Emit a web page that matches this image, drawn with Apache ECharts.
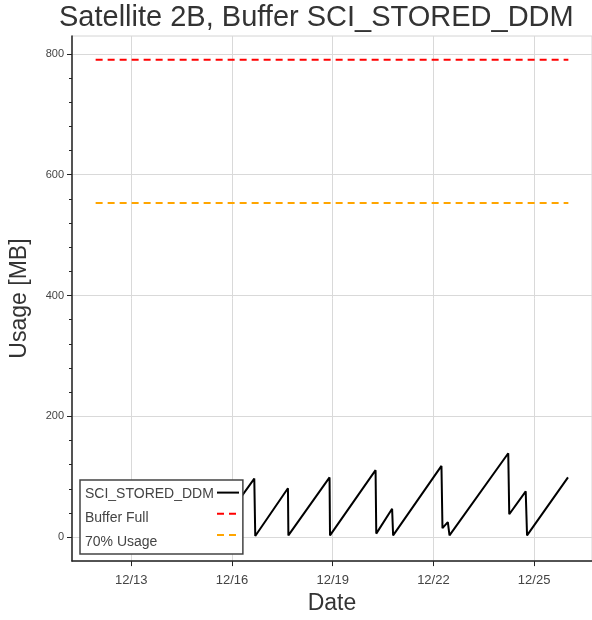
<!DOCTYPE html>
<html><head><meta charset="utf-8">
<script src="https://cdn.jsdelivr.net/npm/echarts@6/dist/echarts.min.js"></script>
<style>html,body{margin:0;padding:0;background:#fff}#c{width:592px;height:620px}</style>
</head><body><div id="c"></div>
<script>
const chartTitle = 'Satellite 2B, Buffer SCI_STORED_DDM';
const seriesNames = ['SCI_STORED_DDM', 'Buffer Full', '70% Usage'];
const usageTimes = [
  '2021-12-15T09:50', '2021-12-16T15:56', '2021-12-16T16:38', '2021-12-17T16:00',
  '2021-12-17T16:19', '2021-12-18T21:45', '2021-12-18T22:05', '2021-12-20T06:39',
  '2021-12-20T07:09', '2021-12-20T18:29', '2021-12-20T19:12', '2021-12-22T05:46',
  '2021-12-22T06:29', '2021-12-22T10:19', '2021-12-22T11:31', '2021-12-24T05:31',
  '2021-12-24T06:14', '2021-12-24T18:00', '2021-12-24T18:58', '2021-12-26T00:14'
];
const usageValues = [0, 97, 2, 81, 3, 99, 3, 111, 6, 47, 3, 118, 15, 25, 3, 139, 38, 76, 3, 99];
const limitTimes = ['2021-12-11T22:30', '2021-12-26T00:30'];
const bufferFullValues = [790, 790];
const usage70Values = [553, 553];
const xTickDates = ['2021-12-13T00:00', '2021-12-16T00:00', '2021-12-19T00:00', '2021-12-22T00:00', '2021-12-25T00:00'];
const yTickValues = [0, 200, 400, 600, 800];
const yMinorTickValues = [40, 80, 120, 160, 240, 280, 320, 360, 440, 480, 520, 560, 640, 680, 720, 760];
const xRange = ['2021-12-11T05:36', '2021-12-26T17:24'];
const yRange = [-39.5, 829.5];

const ts = s => new Date(s).getTime();
const pairs = (t, v) => t.map((x, i) => [ts(x), v[i]]);
const FONT = 'Liberation Sans, Arial, sans-serif';
const pad2 = n => (n < 10 ? '0' : '') + n;
const mmdd = v => { const d = new Date(v); return pad2(d.getMonth() + 1) + '/' + pad2(d.getDate()); };

const chart = echarts.init(document.getElementById('c'), null, {renderer: 'canvas'});
chart.setOption({
  animation: false,
  backgroundColor: '#fff',
  title: {
    text: chartTitle, left: 59, top: 3, padding: 0,
    textStyle: {fontSize: 29, fontWeight: 'normal', color: '#333', fontFamily: FONT}
  },
  grid: {left: 71, right: -4, top: 36, bottom: 54, show: true, borderColor: '#d4d4d4', borderWidth: 1, containLabel: false},
  legend: [
    {
      data: seriesNames, orient: 'vertical', left: 80, top: 480,
      icon: 'none', itemWidth: 0, itemHeight: 14, itemGap: 10,
      padding: [7, 29, 5, 0],
      backgroundColor: '#fff', borderColor: '#444', borderWidth: 1.5,
      textStyle: {fontSize: 14, lineHeight: 14, color: '#444', fontFamily: FONT},
      selectedMode: false, z: 4
    },
    {
      data: seriesNames, orient: 'vertical', left: 216, top: 487,
      itemWidth: 22, itemHeight: 14, itemGap: 10, padding: 0,
      itemStyle: {opacity: 0, borderWidth: 0},
      formatter: () => '', selectedMode: false, z: 5,
      textStyle: {fontSize: 14, lineHeight: 14}
    }
  ],
  xAxis: {
    type: 'value', min: ts(xRange[0]), max: ts(xRange[1]),
    name: 'Date', nameLocation: 'middle', nameGap: 30,
    nameTextStyle: {fontSize: 23, color: '#333', fontFamily: FONT},
    axisLine: {show: true, onZero: false, lineStyle: {color: '#222', width: 1.5}},
    axisTick: {show: true, length: 5, customValues: xTickDates.map(ts), lineStyle: {color: '#222'}},
    axisLabel: {
      customValues: xTickDates.map(ts), fontSize: 13, color: '#444', margin: 13, fontFamily: FONT,
      formatter: v => mmdd(v)
    },
    splitLine: {show: true, lineStyle: {color: '#d9d9d9', width: 1}}
  },
  yAxis: [
    {
      type: 'value', min: yRange[0], max: yRange[1],
      name: 'Usage [MB]', nameLocation: 'middle', nameGap: 41, nameRotate: 90,
      nameTextStyle: {fontSize: 23, color: '#333', fontFamily: FONT},
      axisLine: {show: true, onZero: false, lineStyle: {color: '#222', width: 1.5}},
      axisTick: {show: true, length: 5, customValues: yTickValues, lineStyle: {color: '#222'}},
      axisLabel: {customValues: yTickValues, fontSize: 11, color: '#444', margin: 8, fontFamily: FONT},
      splitLine: {show: true, lineStyle: {color: '#d9d9d9', width: 1}}
    },
    {
      type: 'value', min: yRange[0], max: yRange[1], position: 'left',
      axisLine: {show: false, onZero: false},
      axisTick: {show: true, length: 3, customValues: yMinorTickValues, lineStyle: {color: '#222'}},
      axisLabel: {show: false},
      splitLine: {show: false}
    }
  ],
  series: [
    {
      name: seriesNames[0], type: 'line', data: pairs(usageTimes, usageValues),
      symbol: 'none', lineStyle: {color: '#000', width: 2}, itemStyle: {color: '#000'}, z: 2
    },
    {
      name: seriesNames[1], type: 'line', data: pairs(limitTimes, bufferFullValues),
      symbol: 'none', lineStyle: {color: '#ff0000', width: 2, type: [7, 5]}, itemStyle: {color: '#ff0000'}, z: 2
    },
    {
      name: seriesNames[2], type: 'line', data: pairs(limitTimes, usage70Values),
      symbol: 'none', lineStyle: {color: '#ffa500', width: 2, type: [7, 5]}, itemStyle: {color: '#ffa500'}, z: 2
    }
  ]
});
</script></body></html>
